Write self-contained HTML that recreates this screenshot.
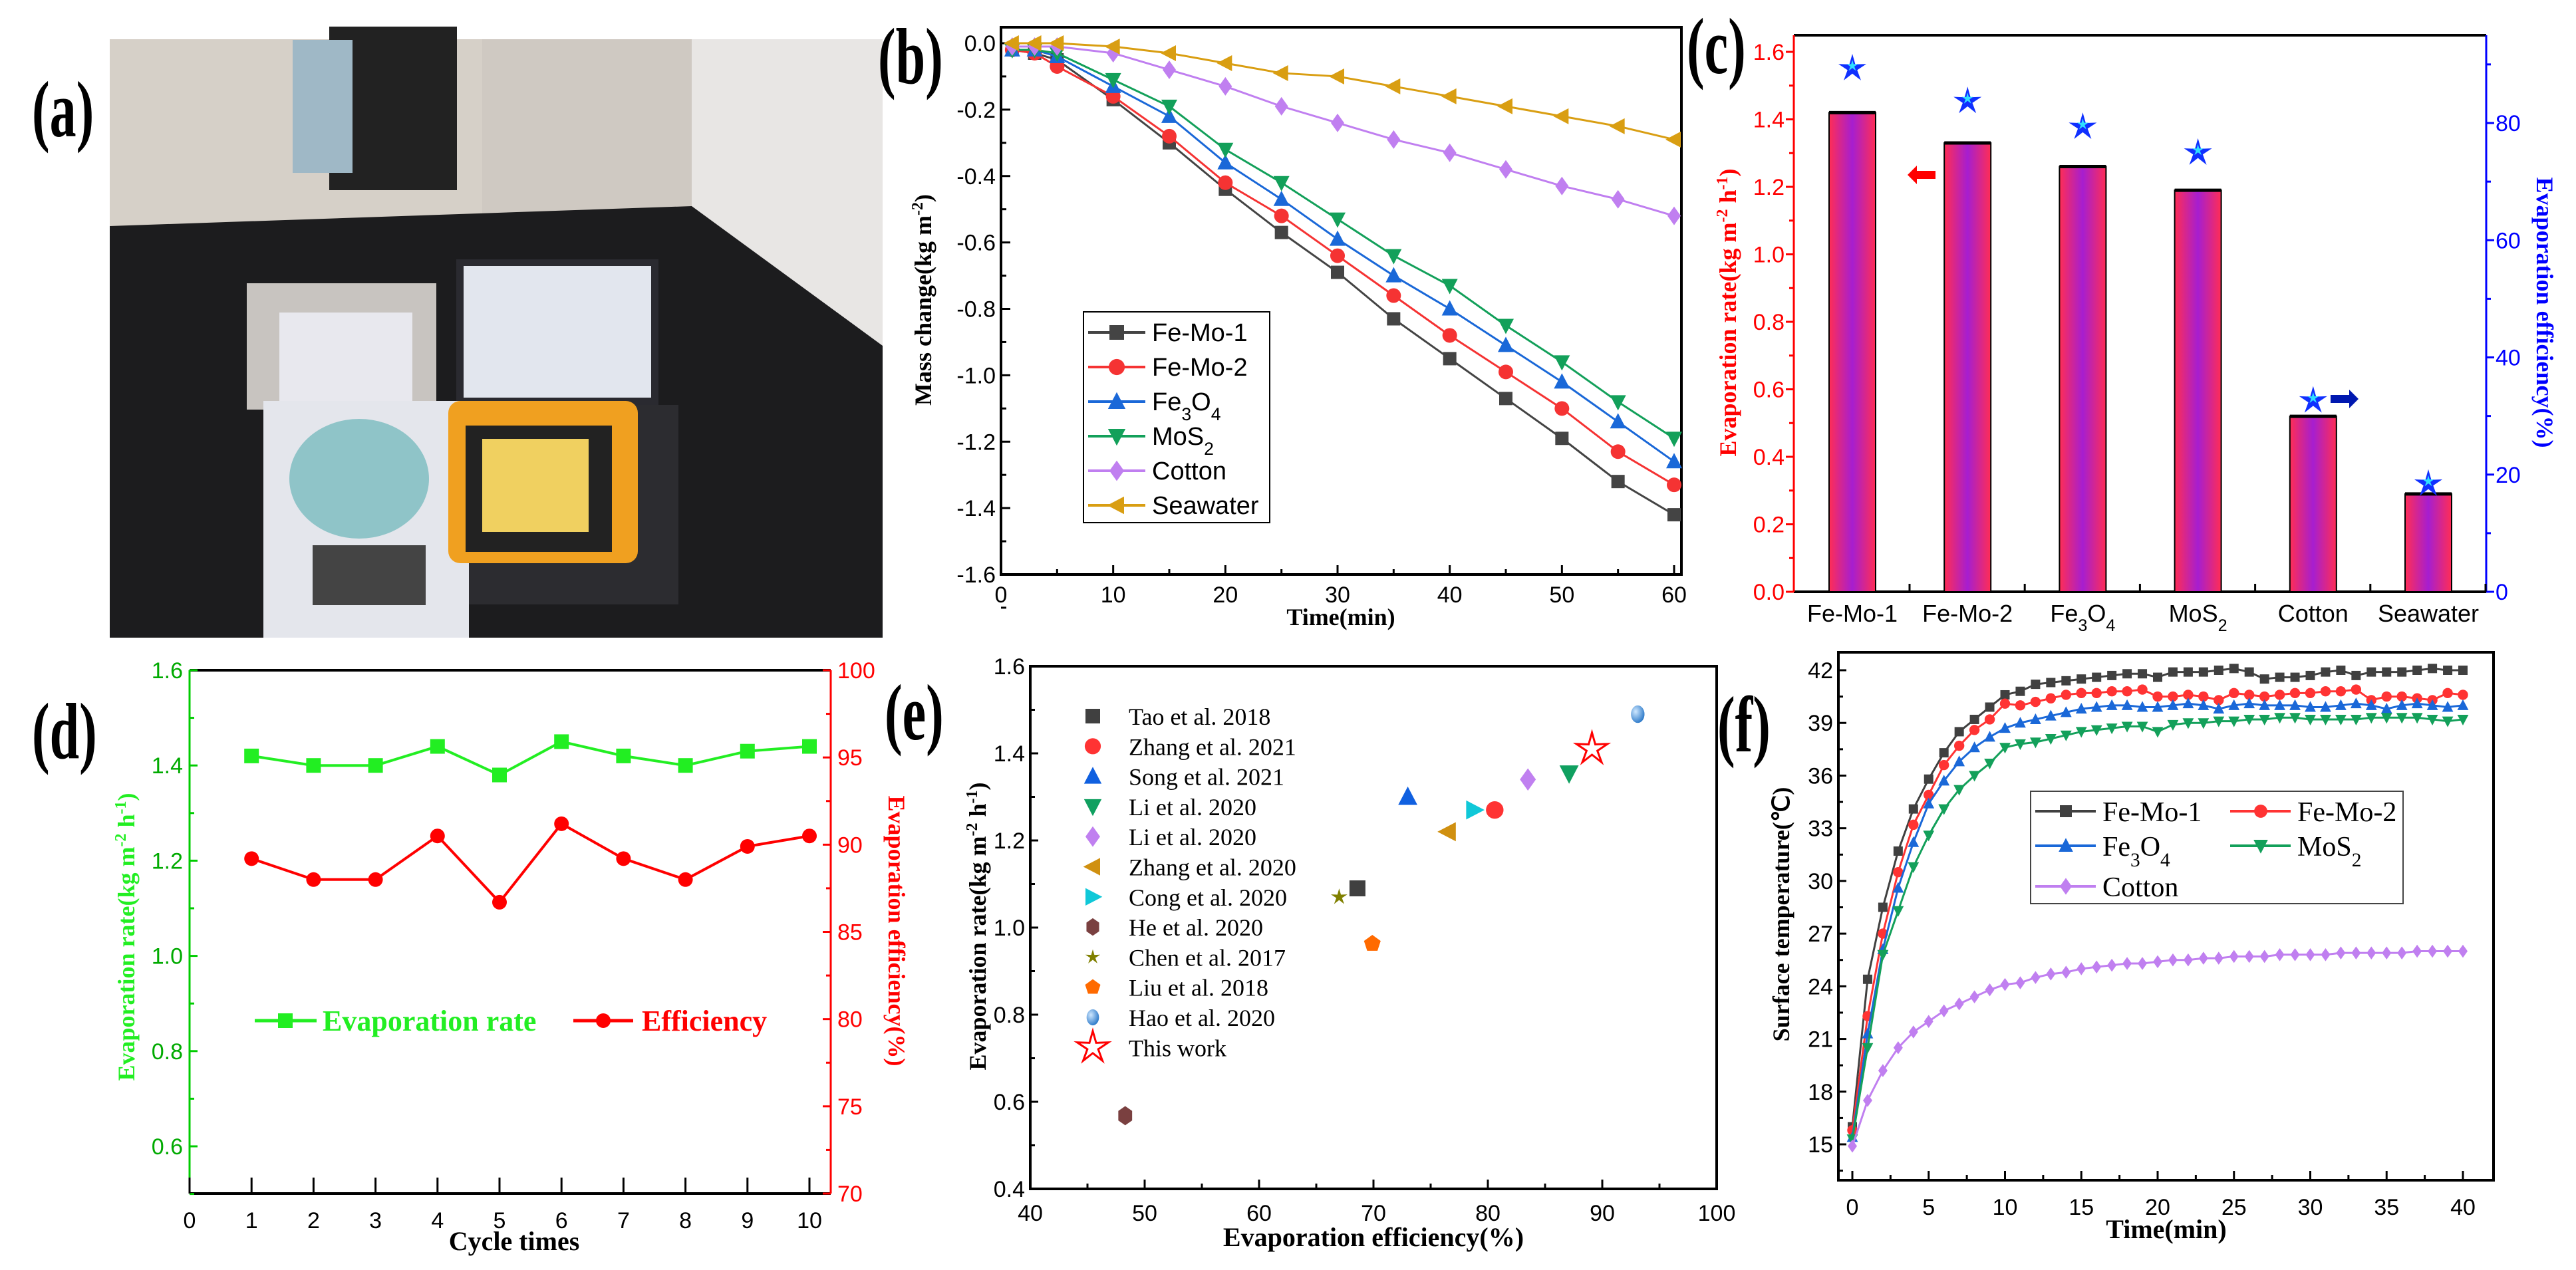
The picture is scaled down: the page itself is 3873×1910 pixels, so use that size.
<!DOCTYPE html>
<html><head><meta charset="utf-8"><style>
html,body{margin:0;padding:0;background:#fff}
svg{display:block}
text{font-family:"Liberation Sans",sans-serif}
.ser{font-family:"Liberation Serif",serif}
</style></head><body>
<svg id="fig" width="3873" height="1910" viewBox="0 0 3873 1910" xmlns="http://www.w3.org/2000/svg">
<defs>
<linearGradient id="barg" x1="0" x2="1" y1="0" y2="0">
<stop offset="0" stop-color="#ff2d55"/><stop offset="0.5" stop-color="#a61ed0"/><stop offset="1" stop-color="#ff2d55"/>
</linearGradient>
<radialGradient id="sph" cx="0.35" cy="0.35" r="0.7"><stop offset="0" stop-color="#cfe8ff"/><stop offset="1" stop-color="#2a78c8"/></radialGradient>
</defs>
<g>
<rect x="165" y="59" width="1162" height="900" fill="#b9b2aa"/>
<rect x="165" y="59" width="560" height="300" fill="#d6d0c8"/>
<rect x="1040" y="59" width="287" height="560" fill="#e8e6e4"/>
<rect x="725" y="59" width="315" height="290" fill="#cfc9c2"/>
<polygon points="165,340 1040,310 1327,520 1327,959 165,959" fill="#1c1c1e"/>
<rect x="495" y="40" width="192" height="246" fill="#222"/>
<rect x="440" y="60" width="90" height="200" fill="#9fb8c6"/>
<rect x="371" y="426" width="285" height="190" fill="#c8c4c0"/>
<rect x="420" y="470" width="200" height="150" fill="#e8e8ee"/>
<rect x="686" y="390" width="304" height="219" fill="#2a2a30"/>
<rect x="697" y="400" width="282" height="198" fill="#e2e6ee"/>
<rect x="690" y="609" width="330" height="300" fill="#2c2c30"/>
<rect x="396" y="603" width="309" height="356" fill="#e4e6ec"/>
<ellipse cx="540" cy="720" rx="105" ry="90" fill="#8fc4c8"/>
<rect x="470" y="820" width="170" height="90" fill="#444"/>
<rect x="674" y="603" width="285" height="244" rx="18" fill="#f0a020"/>
<rect x="700" y="640" width="220" height="190" fill="#222"/>
<rect x="725" y="660" width="160" height="140" fill="#f0d060"/>
</g>
<text class="ser" font-size="100" font-weight="bold" transform="translate(48,205) scale(0.8,1.2)">(a)</text>
<text class="ser" font-size="100" font-weight="bold" transform="translate(1320,125) scale(0.8,1.2)">(b)</text>
<text class="ser" font-size="100" font-weight="bold" transform="translate(2536,110) scale(0.8,1.2)">(c)</text>
<text class="ser" font-size="100" font-weight="bold" transform="translate(48,1140) scale(0.8,1.2)">(d)</text>
<text class="ser" font-size="100" font-weight="bold" transform="translate(1330,1112) scale(0.8,1.2)">(e)</text>
<text class="ser" font-size="100" font-weight="bold" transform="translate(2582,1130) scale(0.8,1.2)">(f)</text>
<g id="gb"></g>
<g id="gc"></g>
<g id="gd"></g>
<g id="ge"></g>
<g id="gf"></g>
</svg>
<script>
const bTimes = [1,3,5,10,15,20,25,30,35,40,45,50,55,60];
const bNames = ["Fe-Mo-1","Fe-Mo-2","Fe3O4","MoS2","Cotton","Seawater"];
const bFeMo1 = [-0.02,-0.03,-0.05,-0.17,-0.30,-0.44,-0.57,-0.69,-0.83,-0.95,-1.07,-1.19,-1.32,-1.42];
const bFeMo2 = [-0.02,-0.03,-0.07,-0.16,-0.28,-0.42,-0.52,-0.64,-0.76,-0.88,-0.99,-1.10,-1.23,-1.33];
const bFe3O4 = [-0.02,-0.02,-0.04,-0.13,-0.22,-0.36,-0.47,-0.59,-0.70,-0.80,-0.91,-1.02,-1.14,-1.26];
const bMoS2 = [-0.02,-0.02,-0.03,-0.11,-0.19,-0.32,-0.42,-0.53,-0.64,-0.73,-0.85,-0.96,-1.08,-1.19];
const bCotton = [-0.01,-0.01,-0.01,-0.03,-0.08,-0.13,-0.19,-0.24,-0.29,-0.33,-0.38,-0.43,-0.47,-0.52];
const bSea = [0.0,0.0,0.0,-0.01,-0.03,-0.06,-0.09,-0.10,-0.13,-0.16,-0.19,-0.22,-0.25,-0.29];
const bYTicks = ["0.0","-0.2","-0.4","-0.6","-0.8","-1.0","-1.2","-1.4","-1.6"];
const bXTicks = ["0","10","20","30","40","50","60"];
const cCats = ["Fe-Mo-1","Fe-Mo-2","Fe3O4","MoS2","Cotton","Seawater"];
const cRate = [1.42,1.33,1.26,1.19,0.52,0.29];
const cEff = [89.3,83.7,79.3,74.9,32.6,18.4];
const cLTicks = ["0.0","0.2","0.4","0.6","0.8","1.0","1.2","1.4","1.6"];
const cRTicks = ["0","20","40","60","80"];
const dCycles = [1,2,3,4,5,6,7,8,9,10];
const dRate = [1.42,1.40,1.40,1.44,1.38,1.45,1.42,1.40,1.43,1.44];
const dEff = [89.2,88.0,88.0,90.5,86.7,91.2,89.2,88.0,89.9,90.5];
const dLTicks = ["0.6","0.8","1.0","1.2","1.4","1.6"];
const dRTicks = ["70","75","80","85","90","95","100"];
const dXTicks = ["0","1","2","3","4","5","6","7","8","9","10"];
const eLabels = ["Tao et al. 2018","Zhang et al. 2021","Song et al. 2021","Li et al. 2020","Li et al. 2020","Zhang et al. 2020","Cong et al. 2020","He et al. 2020","Chen et al. 2017","Liu et al. 2018","Hao et al. 2020","This work"];
const eEff = [68.6,80.6,73.0,87.1,83.5,76.5,78.8,48.3,67.0,69.9,93.1,89.1];
const eRate = [1.09,1.27,1.30,1.354,1.34,1.22,1.27,0.568,1.07,0.963,1.49,1.41];
const eYTicks = ["0.4","0.6","0.8","1.0","1.2","1.4","1.6"];
const eXTicks = ["40","50","60","70","80","90","100"];
const fTimes = [0,1,2,3,4,5,6,7,8,9,10,11,12,13,14,15,16,17,18,19,20,21,22,23,24,25,26,27,28,29,30,31,32,33,34,35,36,37,38,39,40];
const fFeMo1 = [16.0,24.4,28.5,31.7,34.1,35.8,37.3,38.5,39.2,39.9,40.6,40.8,41.2,41.3,41.4,41.5,41.6,41.7,41.8,41.8,41.6,41.9,41.9,41.9,42.0,42.1,41.9,41.5,41.6,41.6,41.7,41.9,42.0,41.7,41.9,41.9,41.9,42.0,42.1,42.0,42.0];
const fFeMo2 = [15.8,22.3,27.0,30.5,33.2,34.9,36.6,37.7,38.6,39.2,40.1,40.0,40.2,40.4,40.6,40.7,40.7,40.8,40.8,40.9,40.5,40.5,40.6,40.5,40.3,40.7,40.6,40.5,40.6,40.7,40.7,40.8,40.8,40.9,40.3,40.5,40.5,40.4,40.3,40.7,40.6];
const fFe3O4 = [15.4,21.3,26.1,29.6,32.2,34.4,35.7,36.8,37.6,38.2,38.7,39.0,39.2,39.4,39.6,39.8,39.9,40.0,40.0,39.9,39.9,40.0,40.1,40.0,39.8,40.0,40.1,40.0,40.0,40.0,39.9,39.9,40.0,40.1,40.0,39.8,40.0,40.1,40.0,39.9,40.0];
const fMoS2 = [15.3,20.5,25.8,28.3,30.8,32.6,34.1,35.2,36.0,36.7,37.6,37.8,37.9,38.1,38.3,38.5,38.6,38.7,38.8,38.8,38.5,38.9,39.0,39.0,39.1,39.1,39.2,39.2,39.3,39.3,39.2,39.2,39.2,39.2,39.3,39.3,39.3,39.3,39.2,39.1,39.2];
const fCotton = [14.9,17.5,19.2,20.5,21.4,22.0,22.6,23.0,23.4,23.8,24.1,24.2,24.5,24.7,24.8,25.0,25.1,25.2,25.3,25.3,25.4,25.5,25.5,25.6,25.6,25.7,25.7,25.7,25.8,25.8,25.8,25.8,25.9,25.9,25.9,25.9,25.9,26.0,26.0,26.0,26.0];
const fYTicks = ["15","18","21","24","27","30","33","36","39","42"];
const fXTicks = ["0","5","10","15","20","25","30","35","40"];

const NS = "http://www.w3.org/2000/svg";
function mk(tag, attrs, parent){ const e=document.createElementNS(NS,tag); for(const k in attrs) e.setAttribute(k,attrs[k]); parent.appendChild(e); return e; }
function lin(d0,d1,p0,p1){ return v=>p0+(v-d0)*(p1-p0)/(d1-d0); }
function marker(parent, kind, x, y, s, fill, stroke){
  let e;
  if(kind==="sq") e=mk("rect",{x:x-s,y:y-s,width:2*s,height:2*s,fill:fill},parent);
  else if(kind==="ci") e=mk("circle",{cx:x,cy:y,r:s*1.1,fill:fill},parent);
  else if(kind==="tu") e=mk("polygon",{points:`${x},${y-s*1.3} ${x-s*1.2},${y+s} ${x+s*1.2},${y+s}`,fill:fill},parent);
  else if(kind==="td") e=mk("polygon",{points:`${x},${y+s*1.3} ${x-s*1.2},${y-s} ${x+s*1.2},${y-s}`,fill:fill},parent);
  else if(kind==="di") e=mk("polygon",{points:`${x},${y-s*1.4} ${x+s},${y} ${x},${y+s*1.4} ${x-s},${y}`,fill:fill},parent);
  else if(kind==="tl") e=mk("polygon",{points:`${x-s*1.3},${y} ${x+s},${y-s*1.2} ${x+s},${y+s*1.2}`,fill:fill},parent);
  else if(kind==="tr") e=mk("polygon",{points:`${x+s*1.3},${y} ${x-s},${y-s*1.2} ${x-s},${y+s*1.2}`,fill:fill},parent);
  else if(kind==="hx") e=mk("polygon",{points:[0,1,2,3,4,5].map(i=>{const a=Math.PI/3*i+Math.PI/2;return (x+s*Math.cos(a))+","+(y+s*1.2*Math.sin(a));}).join(" "),fill:fill},parent);
  else if(kind==="pe") e=mk("polygon",{points:[0,1,2,3,4].map(i=>{const a=-Math.PI/2+2*Math.PI/5*i;return (x+s*1.1*Math.cos(a))+","+(y+s*1.1*Math.sin(a));}).join(" "),fill:fill},parent);
  else if(kind==="st"||kind==="sto"){ const pts=[]; for(let i=0;i<10;i++){const a=-Math.PI/2+Math.PI/5*i; const r=i%2?s*0.45:s*1.3; pts.push((x+r*Math.cos(a))+","+(y+r*Math.sin(a)));}
    e=mk("polygon",{points:pts.join(" "),fill:kind==="sto"?"none":fill,stroke:stroke||"none","stroke-width":kind==="sto"?3:0},parent); }
  else if(kind==="sp") e=mk("ellipse",{cx:x,cy:y,rx:s*0.85,ry:s*1.1,fill:"url(#sph)"},parent);
  return e;
}
function txt(parent, x, y, s, size, opts){
  const e=mk("text",Object.assign({x:x,y:y,"font-size":size},opts||{}),parent); e.textContent=s; return e;
}
function subText(parent,x,y,label,size,anchor,fill,cls){
  const e=mk("text",{x:x,y:y,"font-size":size,"text-anchor":anchor||"start",fill:fill||"#000"},parent);
  if(cls) e.setAttribute("class",cls);
  const parts=label.match(/[A-Za-z\-]+|\d+/g);
  const isSub = (label==="Fe3O4"||label==="MoS2");
  parts.forEach(p=>{ const t=document.createElementNS(NS,"tspan"); t.textContent=p;
    if(isSub && /^\d+$/.test(p)){ t.setAttribute("baseline-shift","sub"); t.setAttribute("font-size",size*0.7);} e.appendChild(t); });
  return e;
}

(function(){
  const g=document.getElementById("gb");
  const L=1505,R=2528,T=41,B=864;
  const x=lin(0,60,1505,2517), y=lin(0,-1.6,65,864);
  mk("rect",{x:L,y:T,width:R-L,height:B-T,fill:"none",stroke:"#000","stroke-width":4},g);
  bYTicks.forEach((t,i)=>{ const v=-0.2*i, yy=y(v);
    mk("line",{x1:L,x2:L+14,y1:yy,y2:yy,stroke:"#000","stroke-width":3},g);
    mk("line",{x1:L,x2:L+8,y1:y(v-0.1),y2:y(v-0.1),stroke:"#000","stroke-width":3},g);
    const e=txt(g,L-8,yy+12,t,34,{"text-anchor":"end"});
    
     });
  bXTicks.forEach((t,i)=>{ const xx=x(10*i);
    mk("line",{x1:xx,x2:xx,y1:B,y2:B-14,stroke:"#000","stroke-width":3},g);
    if(i<6) mk("line",{x1:x(10*i+5),x2:x(10*i+5),y1:B,y2:B-8,stroke:"#000","stroke-width":3},g);
    const e=txt(g,xx,B+42,t,34,{"text-anchor":"middle"});
    
     });
  const yt=txt(g,0,0,"Mass change(kg m",36,{"font-weight":"bold","class":"ser","text-anchor":"middle",transform:"translate(1400,451) rotate(-90)"});
  const sp=document.createElementNS(NS,"tspan"); sp.setAttribute("baseline-shift","super"); sp.setAttribute("font-size","24"); sp.textContent="-2"; yt.appendChild(sp);
  const sp2=document.createElementNS(NS,"tspan"); sp2.textContent=")"; yt.appendChild(sp2);
  
  
  const xt=txt(g,2016,940,"Time(min)",36,{"font-weight":"bold","class":"ser","text-anchor":"middle"});
  
  
  const series=[bFeMo1,bFeMo2,bFe3O4,bMoS2,bCotton,bSea];
  const cols=["#444444","#f53333","#1a68d8","#13a05a","#c07ff0","#d99e12"];
  const mks=["sq","ci","tu","td","di","tl"];
  series.forEach((s,k)=>{
    const pl=mk("polyline",{points:s.map((v,i)=>x(bTimes[i])+","+y(v)).join(" "),fill:"none",stroke:cols[k],"stroke-width":3},g);
    
    
    s.forEach((v,i)=>{ const m=marker(g,mks[k],x(bTimes[i]),y(v),10,cols[k]);
      
       });
  });
  const lg=mk("g",{},g);
  
  
  mk("rect",{x:1629,y:469,width:280,height:317,fill:"#fff",stroke:"#000","stroke-width":2},lg);
  bNames.forEach((n,i)=>{ const yy=500+i*52;
    mk("line",{x1:1636,x2:1722,y1:yy,y2:yy,stroke:cols[i],"stroke-width":4},lg);
    marker(lg,mks[i],1679,yy,11,cols[i]);
    const t=subText(lg,1732,yy+13,n,38,"start","#000");
    
     });
})();

(function(){
  const g=document.getElementById("gc");
  const L=2697,R=3738,T=53,B=890;
  const yl=lin(0,1.6,890,78), yr=lin(0,80,890,185);
  const xc=i=>2785+i*173.2;
  mk("line",{x1:L,x2:R,y1:T,y2:T,stroke:"#000","stroke-width":4},g);
  mk("line",{x1:L,x2:R,y1:B,y2:B,stroke:"#000","stroke-width":4},g);
  mk("line",{x1:L,x2:L,y1:T,y2:B,stroke:"#f00","stroke-width":3},g);
  mk("line",{x1:R,x2:R,y1:T,y2:B,stroke:"#00f","stroke-width":3},g);
  cLTicks.forEach((t,i)=>{ const v=0.2*i, yy=yl(v);
    mk("line",{x1:L,x2:L-12,y1:yy,y2:yy,stroke:"#f00","stroke-width":3},g);
    if(i<8) mk("line",{x1:L,x2:L-7,y1:yl(v+0.1),y2:yl(v+0.1),stroke:"#f00","stroke-width":3},g);
    const e=txt(g,L-14,yy+12,t,34,{"text-anchor":"end",fill:"#f00"});
    
     });
  cRTicks.forEach((t,i)=>{ const v=20*i, yy=yr(v);
    mk("line",{x1:R,x2:R+12,y1:yy,y2:yy,stroke:"#00f","stroke-width":3},g);
    mk("line",{x1:R,x2:R+7,y1:yr(v+10),y2:yr(v+10),stroke:"#00f","stroke-width":3},g);
    const e=txt(g,R+14,yy+12,t,34,{fill:"#00f"});
    
     });
  cCats.forEach((c,i)=>{
    mk("line",{x1:xc(i)+86,x2:xc(i)+86,y1:B,y2:B-12,stroke:"#000","stroke-width":3},g);
    const b=mk("rect",{x:xc(i)-35,y:yl(cRate[i]),width:70,height:B-yl(cRate[i]),fill:"url(#barg)",stroke:"#000","stroke-width":2},g);
    
    
    mk("line",{x1:xc(i)-35,x2:xc(i)+35,y1:yl(cRate[i]),y2:yl(cRate[i]),stroke:"#000","stroke-width":5},g);
    const s=marker(g,"st",xc(i),yr(cEff[i]),17,"#1030ff");
    
    
    marker(g,"st",xc(i),yr(cEff[i])-4,7,"#30e0ff");
    const t=subText(g,xc(i),935,c,36,"middle","#000");
    
     });
  mk("polygon",{points:"2868,263 2882,249 2882,257 2910,257 2910,269 2882,269 2882,277",fill:"#f00"},g);
  mk("polygon",{points:"3546,600 3532,586 3532,594 3504,594 3504,606 3532,606 3532,614",fill:"#0018b0"},g);
  const yt=txt(g,0,0,"Evaporation rate(kg m",36,{"font-weight":"bold","class":"ser","text-anchor":"middle",fill:"#f00",transform:"translate(2610,470) rotate(-90)"});
  [["-2","super"],[" h",""],["-1","super"],[")",""]].forEach(p=>{const s=document.createElementNS(NS,"tspan"); s.textContent=p[0]; if(p[1]){s.setAttribute("baseline-shift","super");s.setAttribute("font-size","24");} yt.appendChild(s);});
  
  
  const rt=txt(g,0,0,"Evaporation efficiency(%)",36,{"font-weight":"bold","class":"ser","text-anchor":"middle",fill:"#00f",transform:"translate(3814,470) rotate(90)"});
  
  
})();

(function(){
  const g=document.getElementById("gd");
  const L=285,R=1249,T=1008,B=1795;
  const x=lin(0,10,285,1217), yl=lin(0.6,1.6,1724,1008), yr=lin(70,100,1795,1008);
  mk("line",{x1:L,x2:R,y1:T,y2:T,stroke:"#000","stroke-width":4},g);
  mk("line",{x1:L,x2:R,y1:B,y2:B,stroke:"#000","stroke-width":4},g);
  mk("line",{x1:L,x2:L,y1:T,y2:B,stroke:"#0c0","stroke-width":3},g);
  mk("line",{x1:R,x2:R,y1:T,y2:B,stroke:"#f00","stroke-width":3},g);
  dLTicks.forEach((t,i)=>{ const v=0.6+0.2*i, yy=yl(v);
    mk("line",{x1:L,x2:L+12,y1:yy,y2:yy,stroke:"#0c0","stroke-width":3},g);
    mk("line",{x1:L,x2:L+7,y1:yl(v-0.1),y2:yl(v-0.1),stroke:"#0c0","stroke-width":3},g);
    const e=txt(g,L-10,yy+12,t,34,{"text-anchor":"end",fill:"#0a0"});
    
     });
  dRTicks.forEach((t,i)=>{ const v=70+5*i, yy=yr(v);
    mk("line",{x1:R,x2:R-12,y1:yy,y2:yy,stroke:"#f00","stroke-width":3},g);
    if(i<6) mk("line",{x1:R,x2:R-7,y1:yr(v+2.5),y2:yr(v+2.5),stroke:"#f00","stroke-width":3},g);
    const e=txt(g,R+10,yy+12,t,34,{fill:"#f00"});
    
     });
  dXTicks.forEach((t,i)=>{ const xx=x(i);
    mk("line",{x1:xx,x2:xx,y1:B,y2:B-24,stroke:"#000","stroke-width":3},g);
    const e=txt(g,xx,B+52,t,34,{"text-anchor":"middle"});
    
     });
  const p1=mk("polyline",{points:dCycles.map((c,i)=>x(c)+","+yl(dRate[i])).join(" "),fill:"none",stroke:"#22ee22","stroke-width":4},g);
  
  
  const p2=mk("polyline",{points:dCycles.map((c,i)=>x(c)+","+yr(dEff[i])).join(" "),fill:"none",stroke:"#f00","stroke-width":4},g);
  
  
  dCycles.forEach((c,i)=>{
    const a=marker(g,"sq",x(c),yl(dRate[i]),11,"#22ee22");
    
    
    const b=marker(g,"ci",x(c),yr(dEff[i]),10,"#f00");
    
     });
  mk("line",{x1:383,x2:476,y1:1535,y2:1535,stroke:"#22ee22","stroke-width":5},g);
  marker(g,"sq",429,1535,11,"#22ee22");
  const l1=txt(g,485,1550,"Evaporation rate",44,{"class":"ser",fill:"#22ee22","font-weight":"bold"});
  
  
  mk("line",{x1:862,x2:952,y1:1535,y2:1535,stroke:"#f00","stroke-width":5},g);
  marker(g,"ci",907,1535,10,"#f00");
  const l2=txt(g,965,1550,"Efficiency",44,{"class":"ser",fill:"#f00","font-weight":"bold"});
  
  
  const yt=txt(g,0,0,"Evaporation rate(kg m",36,{"font-weight":"bold","class":"ser","text-anchor":"middle",fill:"#22ee22",transform:"translate(202,1409) rotate(-90)"});
  [["-2","super"],[" h",""],["-1","super"],[")",""]].forEach(p=>{const s=document.createElementNS(NS,"tspan"); s.textContent=p[0]; if(p[1]){s.setAttribute("baseline-shift","super");s.setAttribute("font-size","24");} yt.appendChild(s);});
  
  
  const rt=txt(g,0,0,"Evaporation efficiency(%)",36,{"font-weight":"bold","class":"ser","text-anchor":"middle",fill:"#f00",transform:"translate(1336,1400) rotate(90)"});
  
  
  const xt=txt(g,773,1880,"Cycle times",40,{"font-weight":"bold","class":"ser","text-anchor":"middle"});
  
  
})();

(function(){
  const g=document.getElementById("ge");
  const L=1549,R=2581,T=1002,B=1788;
  const x=lin(40,100,1549,2581), y=lin(0.4,1.6,1788,1002);
  mk("rect",{x:L,y:T,width:R-L,height:B-T,fill:"none",stroke:"#000","stroke-width":4},g);
  eYTicks.forEach((t,i)=>{ const v=0.4+0.2*i, yy=y(v);
    mk("line",{x1:L,x2:L+12,y1:yy,y2:yy,stroke:"#000","stroke-width":3},g);
    if(i<6) mk("line",{x1:L,x2:L+7,y1:y(v+0.1),y2:y(v+0.1),stroke:"#000","stroke-width":3},g);
    const e=txt(g,L-8,yy+12,t,34,{"text-anchor":"end"});
    
     });
  eXTicks.forEach((t,i)=>{ const v=40+10*i, xx=x(v);
    mk("line",{x1:xx,x2:xx,y1:B,y2:B-14,stroke:"#000","stroke-width":3},g);
    if(i<6) mk("line",{x1:x(v+5),x2:x(v+5),y1:B,y2:B-8,stroke:"#000","stroke-width":3},g);
    const e=txt(g,xx,B+48,t,34,{"text-anchor":"middle"});
    
     });
  const kinds=["sq","ci","tu","td","di","tl","tr","hx","st","pe","sp","sto"];
  const cols=["#404040","#f33","#1060e0","#10a060","#c080f0","#d09010","#10c8d8","#7a4040","#808000","#ff6a00","#3a8ad8","#f00"];
  eLabels.forEach((lab,i)=>{
    const m=marker(g,kinds[i],x(eEff[i]),y(eRate[i]),i===11?19:(i===8?10:12),cols[i],cols[i]);
    
    
    const yy=1077+i*45.3;
    marker(g,kinds[i],1643,yy,i===11?19:(i===8?9:11),cols[i],cols[i]);
    const t=txt(g,1697,yy+13,lab,36,{"class":"ser"});
    
     });
  const yt=txt(g,0,0,"Evaporation rate(kg m",36,{"font-weight":"bold","class":"ser","text-anchor":"middle",transform:"translate(1482,1393) rotate(-90)"});
  [["-2","super"],[" h",""],["-1","super"],[")",""]].forEach(p=>{const s=document.createElementNS(NS,"tspan"); s.textContent=p[0]; if(p[1]){s.setAttribute("baseline-shift","super");s.setAttribute("font-size","24");} yt.appendChild(s);});
  
  
  const xt=txt(g,2065,1874,"Evaporation efficiency(%)",40,{"font-weight":"bold","class":"ser","text-anchor":"middle"});
  
  
})();

(function(){
  const g=document.getElementById("gf");
  const L=2764,R=3749,T=981,B=1775;
  const x=lin(0,40,2785,3703), y=lin(15,42,1721,1008);
  mk("rect",{x:L,y:T,width:R-L,height:B-T,fill:"none",stroke:"#000","stroke-width":4},g);
  fYTicks.forEach((t,i)=>{ const v=15+3*i, yy=y(v);
    mk("line",{x1:L,x2:L+12,y1:yy,y2:yy,stroke:"#000","stroke-width":3},g);
    mk("line",{x1:L,x2:L+7,y1:y(v-1.5),y2:y(v-1.5),stroke:"#000","stroke-width":3},g);
    const e=txt(g,L-8,yy+12,t,34,{"text-anchor":"end"});
    
     });
  fXTicks.forEach((t,i)=>{ const v=5*i, xx=x(v);
    mk("line",{x1:xx,x2:xx,y1:B,y2:B-14,stroke:"#000","stroke-width":3},g);
    if(i<8) mk("line",{x1:x(v+2.5),x2:x(v+2.5),y1:B,y2:B-8,stroke:"#000","stroke-width":3},g);
    const e=txt(g,xx,B+52,t,34,{"text-anchor":"middle"});
    
     });
  const names=["Fe-Mo-1","Fe-Mo-2","Fe3O4","MoS2","Cotton"];
  const series=[fFeMo1,fFeMo2,fFe3O4,fMoS2,fCotton];
  const cols=["#404040","#f33","#1a68d8","#13a05a","#c07ff0"];
  const mks=["sq","ci","tu","td","di"];
  series.forEach((s,k)=>{
    const pl=mk("polyline",{points:s.map((v,i)=>x(fTimes[i])+","+y(v)).join(" "),fill:"none",stroke:cols[k],"stroke-width":3},g);
    
    
    s.forEach((v,i)=>{ const m=marker(g,mks[k],x(fTimes[i]),y(v),7,cols[k]);
      
       });
  });
  const lg=mk("g",{},g);
  
  
  mk("rect",{x:3053,y:1190,width:560,height:169,fill:"#fff",stroke:"#444","stroke-width":2},lg);
  const pos=[[3060,1220],[3353,1220],[3060,1272],[3353,1272],[3060,1333]];
  names.forEach((n,i)=>{ const [lx,ly]=pos[i];
    mk("line",{x1:lx,x2:lx+91,y1:ly,y2:ly,stroke:cols[i],"stroke-width":4},lg);
    marker(lg,mks[i],lx+46,ly,9,cols[i]);
    const t=subText(lg,lx+101,ly+15,n,42,"start","#000","ser");
    
     });
  const yt=txt(g,0,0,"Surface temperature(℃)",36,{"font-weight":"bold","class":"ser","text-anchor":"middle",transform:"translate(2690,1375) rotate(-90)"});
  
  
  const xt=txt(g,3257,1862,"Time(min)",40,{"font-weight":"bold","class":"ser","text-anchor":"middle"});
  
  
})();
</script>
</body></html>
